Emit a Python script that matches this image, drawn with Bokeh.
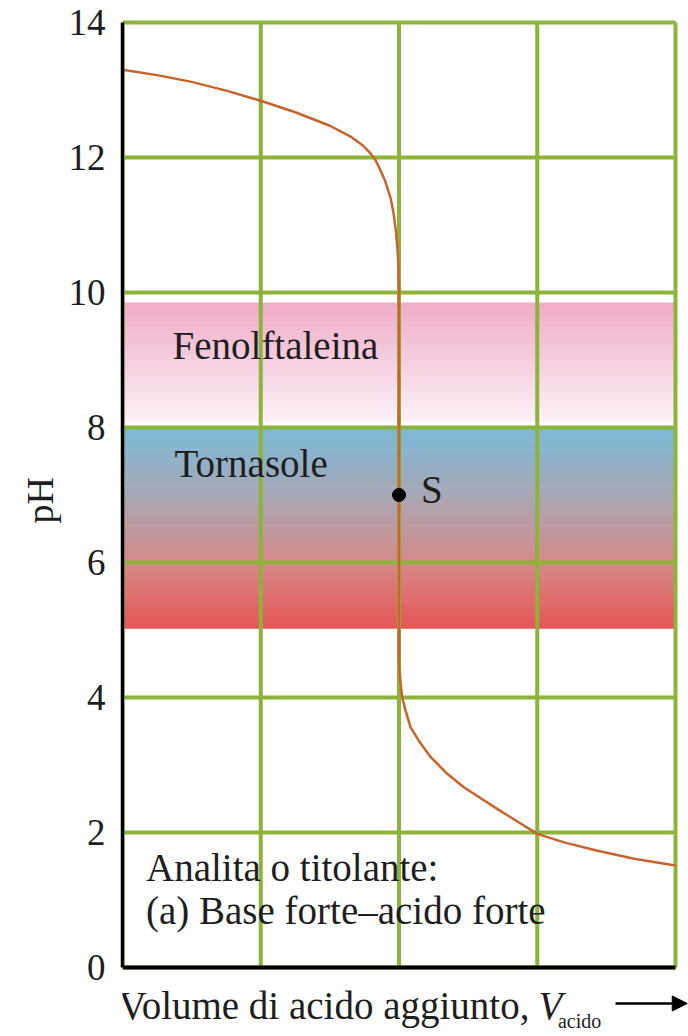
import numpy as np
from bokeh.plotting import figure
from bokeh.models import Range1d, FixedTicker, Arrow, NormalHead, Title
from bokeh.core.properties import value
from bokeh.embed import file_html
from bokeh.resources import INLINE

# ---------------- data ----------------
v_acid = [0.0, 0.25, 0.5, 0.75, 1.0, 1.25, 1.5, 1.65, 1.743, 1.794, 1.83, 1.866, 1.902,
          1.939, 1.96, 1.977, 1.99, 1.997, 2.0,
          2.0, 2.003, 2.011, 2.023, 2.047, 2.083, 2.143, 2.228, 2.349, 2.469, 2.71,
          3.0, 3.2, 3.436, 3.7, 4.0]
ph_curve = [13.30, 13.22, 13.12, 12.99, 12.84, 12.67, 12.47, 12.31, 12.17, 12.06, 11.96, 11.81, 11.64,
            11.40, 11.18, 10.92, 10.62, 10.33, 10.0,
            4.6, 4.44, 4.21, 4.0, 3.81, 3.56, 3.36, 3.12, 2.87, 2.67, 2.35,
            1.98, 1.85, 1.73, 1.61, 1.51]

eq_v = [2.0]
eq_ph = [7.0]

y_ticks = [0, 2, 4, 6, 8, 10, 12, 14]
x_grid = [0, 1, 2, 3, 4]
x_min, x_max = 0, 4
y_min, y_max = 0, 14

# indicator ranges (pH) and their colour stops
fenol_range = [8.08, 9.85]
fenol_stop_ph = [8.08, 9.85]
fenol_stop_rgb = [(252, 242, 247), (240, 172, 200)]

torna_range = [5.02, 8.0]
torna_stop_ph = [5.02, 6.0, 7.0, 8.0]
torna_stop_rgb = [(232, 86, 86), (214, 138, 138), (168, 168, 182), (122, 186, 216)]

FONT = "Liberation Serif"
TXT_COL = "#1e1e1e"

p = figure(width=688, height=1036,
           x_range=Range1d(0, 4.094), y_range=Range1d(-1.022, 14.044),
           output_backend="svg", toolbar_location=None, x_axis_location=None,
           min_border_left=122, min_border_right=0, min_border_top=19, min_border_bottom=0)
p.outline_line_color = None
p.background_fill_color = "white"
p.border_fill_color = "white"
p.xgrid.visible = False
p.ygrid.visible = False


def gradient_band(rng, stop_ph, stop_rgb, n=90):
    edges = np.linspace(rng[0], rng[1], n + 1)
    mids = 0.5 * (edges[:-1] + edges[1:])
    r = np.interp(mids, stop_ph, [c[0] for c in stop_rgb])
    g = np.interp(mids, stop_ph, [c[1] for c in stop_rgb])
    b = np.interp(mids, stop_ph, [c[2] for c in stop_rgb])
    cols = ["#%02x%02x%02x" % (int(a), int(bb), int(c)) for a, bb, c in zip(r, g, b)]
    tops = list(edges[1:] + 0.01)
    tops[-1] = edges[-1]
    p.quad(left=x_min, right=x_max, bottom=list(edges[:-1]), top=tops,
           fill_color=cols, line_color=None)


gradient_band(fenol_range, fenol_stop_ph, fenol_stop_rgb)
gradient_band(torna_range, torna_stop_ph, torna_stop_rgb)

# grid lines (bounded to the chart area)
grid_col = "#8db33a"
p.segment(x0=x_grid, y0=[y_min] * len(x_grid), x1=x_grid, y1=[y_max] * len(x_grid),
          line_color=grid_col, line_width=4)
p.segment(x0=[x_min] * len(y_ticks), y0=y_ticks, x1=[x_max] * len(y_ticks), y1=y_ticks,
          line_color=grid_col, line_width=4)

# x axis line at pH 0
p.segment(x0=[x_min], y0=[y_min], x1=[x_max], y1=[y_min], line_color="black", line_width=4)

# y axis
p.yaxis.ticker = FixedTicker(ticks=y_ticks)
p.yaxis.bounds = (y_min, y_max)
p.yaxis.axis_line_color = "black"
p.yaxis.axis_line_width = 3.5
p.yaxis.major_tick_out = 0
p.yaxis.major_tick_in = 0
p.yaxis.minor_tick_out = 0
p.yaxis.minor_tick_in = 0
p.yaxis.major_label_text_font = FONT
p.yaxis.major_label_text_font_size = "37px"
p.yaxis.major_label_text_color = TXT_COL
p.yaxis.major_label_standoff = 17

# y axis title (as a side title so it can sit beside the 0-14 span)
p.add_layout(Title(text="pH", align="left", offset=513, text_font=FONT,
                   text_font_size="38px", text_font_style="normal",
                   text_color=TXT_COL), "left")

# titration curve
p.line(v_acid, ph_curve, line_color="#c8642d", line_width=2.5, line_join="round")
# equivalence point
p.scatter(eq_v, eq_ph, size=13, fill_color="black", line_color="black")

# texts
txt = dict(text_font=value(FONT), text_font_size="39px", text_color=TXT_COL,
           text_baseline="alphabetic", text_align="left")
p.text(x=[0.362], y=[9.21], text=["Fenolftaleina"], **txt)
p.text(x=[0.376], y=[7.46], text=["Tornasole"], **txt)
p.text(x=[2.16], y=[7.08], text=["S"], **txt)
p.text(x=[0.17], y=[1.48], text=["Analita o titolante:"], **txt)
p.text(x=[0.17], y=[0.84], text=["(a) Base forte–acido forte"], **txt)

# x-axis title, built from pieces
p.text(x=[-0.029], y=[-0.563], text=["Volume di acido aggiunto,"], **txt)
p.text(x=[3.009], y=[-0.563], text=["V"], text_font_style="italic", **txt)
p.text(x=[3.15], y=[-0.79], text=["acido"], text_font=value(FONT), text_font_size="20px",
       text_color=TXT_COL, text_baseline="alphabetic", text_align="left")
p.add_layout(Arrow(end=NormalHead(size=15, fill_color="black", line_color="black"),
                   x_start=3.566, y_start=-0.533, x_end=4.085, y_end=-0.533,
                   line_width=2.5, line_color="black"))

open("out.html", "w").write(file_html(p, INLINE))
